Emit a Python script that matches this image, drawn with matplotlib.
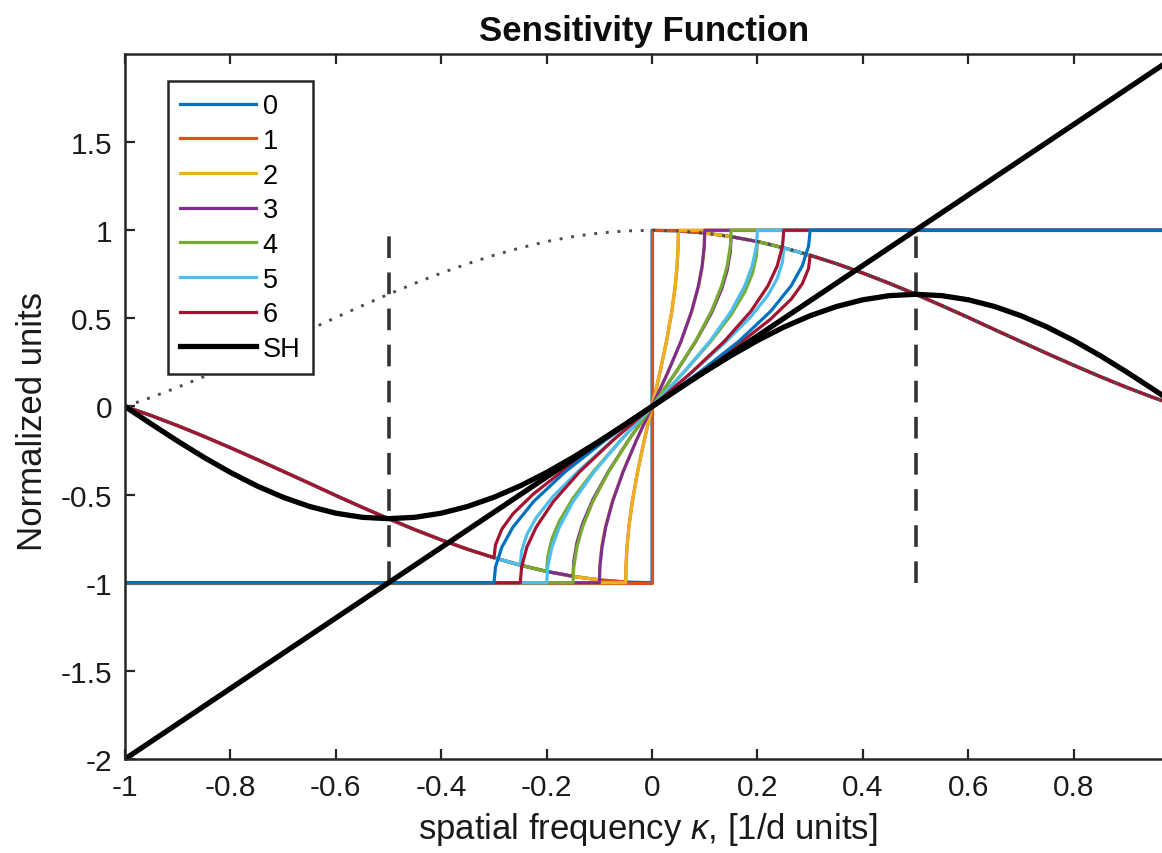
import matplotlib
matplotlib.use("Agg")
import matplotlib.pyplot as plt

plt.rcParams['font.family'] = ['Liberation Sans', 'DejaVu Sans']
plt.rcParams['mathtext.fontset'] = 'custom'
plt.rcParams['mathtext.rm'] = 'Liberation Sans'
plt.rcParams['mathtext.it'] = 'Liberation Sans:italic'

# ---- data ----
x_ticks = [-1, -0.8, -0.6, -0.4, -0.2, 0, 0.2, 0.4, 0.6, 0.8]
x_tick_labels = ['-1', '-0.8', '-0.6', '-0.4', '-0.2', '0', '0.2', '0.4', '0.6', '0.8']
y_ticks = [-2, -1.5, -1, -0.5, 0, 0.5, 1, 1.5]
y_tick_labels = ['-2', '-1.5', '-1', '-0.5', '0', '0.5', '1', '1.5']

labels = ['0', '1', '2', '3', '4', '5', '6', 'SH']
colors = ['#0072BD', '#D95319', '#EDB120', '#7E2F8E', '#77AC30', '#4DBEEE', '#A2142F']

# ramp part of each curve (x positions per ramp width)
ramp_x_00 = [0.0, 0.0]
ramp_x_05 = [-0.05, -0.0495, -0.0475, -0.044, -0.0375, -0.0275, -0.015, 0.0,
             0.015, 0.0275, 0.0375, 0.044, 0.0475, 0.0495, 0.05]
ramp_x_10 = [-0.10, -0.099, -0.095, -0.088, -0.075, -0.055, -0.03, 0.0,
             0.03, 0.055, 0.075, 0.088, 0.095, 0.099, 0.10]
ramp_x_15 = [-0.15, -0.1485, -0.1425, -0.132, -0.1125, -0.0825, -0.045, 0.0,
             0.045, 0.0825, 0.1125, 0.132, 0.1425, 0.1485, 0.15]
ramp_x_20 = [-0.20, -0.198, -0.19, -0.176, -0.15, -0.11, -0.06, 0.0,
             0.06, 0.11, 0.15, 0.176, 0.19, 0.198, 0.20]
ramp_x_25 = [-0.25, -0.2475, -0.2375, -0.22, -0.1875, -0.1375, -0.075, 0.0,
             0.075, 0.1375, 0.1875, 0.22, 0.2375, 0.2475, 0.25]
ramp_x_30 = [-0.30, -0.297, -0.285, -0.264, -0.225, -0.165, -0.09, 0.0,
             0.09, 0.165, 0.225, 0.264, 0.285, 0.297, 0.30]

# hard-clipped ramps (saturate at +-1)
hard_y_00 = [-1.0, 1.0]
hard_y = [-1.0, -0.910, -0.798, -0.685, -0.540, -0.371, -0.194, 0.0,
          0.194, 0.371, 0.540, 0.685, 0.798, 0.910, 1.0]

# sinc-weighted ramps
soft_y_00 = [-1.0, 1.0]
soft_y_05 = [-0.996, -0.906, -0.795, -0.683, -0.539, -0.371, -0.194, 0.0,
             0.194, 0.371, 0.539, 0.683, 0.795, 0.906, 0.996]
soft_y_10 = [-0.984, -0.895, -0.786, -0.676, -0.535, -0.369, -0.194, 0.0,
             0.194, 0.369, 0.535, 0.676, 0.786, 0.895, 0.984]
soft_y_15 = [-0.963, -0.877, -0.771, -0.666, -0.529, -0.367, -0.193, 0.0,
             0.193, 0.367, 0.529, 0.666, 0.771, 0.877, 0.963]
soft_y_20 = [-0.936, -0.852, -0.751, -0.651, -0.520, -0.364, -0.193, 0.0,
             0.193, 0.364, 0.520, 0.651, 0.751, 0.852, 0.936]
soft_y_25 = [-0.900, -0.821, -0.726, -0.632, -0.509, -0.360, -0.192, 0.0,
             0.192, 0.360, 0.509, 0.632, 0.726, 0.821, 0.900]
soft_y_30 = [-0.858, -0.784, -0.696, -0.609, -0.496, -0.355, -0.191, 0.0,
             0.191, 0.355, 0.496, 0.609, 0.696, 0.784, 0.858]

widths = [0.0, 0.05, 0.10, 0.15, 0.20, 0.25, 0.30]
ramp_xs = [ramp_x_00, ramp_x_05, ramp_x_10, ramp_x_15, ramp_x_20, ramp_x_25, ramp_x_30]
soft_ys = [soft_y_00, soft_y_05, soft_y_10, soft_y_15, soft_y_20, soft_y_25, soft_y_30]

grid_x = [-1.0, -0.95, -0.9, -0.85, -0.8, -0.75, -0.7, -0.65, -0.6, -0.55, -0.5,
          -0.45, -0.4, -0.35, -0.3, -0.25, -0.2, -0.15, -0.1, -0.05, 0.0,
          0.05, 0.1, 0.15, 0.2, 0.25, 0.3, 0.35, 0.4, 0.45, 0.5,
          0.55, 0.6, 0.65, 0.7, 0.75, 0.8, 0.85, 0.9, 0.95, 1.0]
# dotted envelope
sinc_y = [0.0, 0.052, 0.109, 0.170, 0.234, 0.300, 0.368, 0.436, 0.505, 0.572, 0.637,
          0.699, 0.757, 0.810, 0.858, 0.900, 0.936, 0.964, 0.984, 0.996, 1.0,
          0.996, 0.984, 0.964, 0.936, 0.900, 0.858, 0.810, 0.757, 0.699, 0.637,
          0.572, 0.505, 0.436, 0.368, 0.300, 0.234, 0.170, 0.109, 0.052, 0.0]
# outer tail shared by the sinc-weighted curves
tail_y = [0.0, -0.052, -0.109, -0.170, -0.234, -0.300, -0.368, -0.436, -0.505, -0.572, -0.637,
          -0.699, -0.757, -0.810, -0.858, -0.900, -0.936, -0.964, -0.984, -0.996, 0.0,
          0.996, 0.984, 0.964, 0.936, 0.900, 0.858, 0.810, 0.757, 0.699, 0.637,
          0.572, 0.505, 0.436, 0.368, 0.300, 0.234, 0.170, 0.109, 0.052, 0.0]
sh_y = [0.0, -0.0996, -0.1967, -0.2890, -0.3742, -0.4502, -0.5150, -0.5672, -0.6055, -0.6288, -0.6366,
        -0.6288, -0.6055, -0.5672, -0.5150, -0.4502, -0.3742, -0.2890, -0.1967, -0.0996, 0.0,
        0.0996, 0.1967, 0.2890, 0.3742, 0.4502, 0.5150, 0.5672, 0.6055, 0.6288, 0.6366,
        0.6288, 0.6055, 0.5672, 0.5150, 0.4502, 0.3742, 0.2890, 0.1967, 0.0996, 0.0]

line_x = [-1.0, 1.0]
line_y = [-2.0, 2.0]
dash_x = [-0.5, 0.5]
dash_lo, dash_hi = -1.0, 1.0

# ---- figure ----
fig = plt.figure(figsize=(11.62, 8.54), dpi=100)
ax = fig.add_axes([0.1076, 0.1101, 0.9071, 0.8255])

handles = []
# sinc-weighted curves, colour n for width n
for n, w in enumerate(widths):
    xs = [x for x in grid_x if x < -w - 1e-9] + ramp_xs[n] + [x for x in grid_x if x > w + 1e-9]
    ys = ([t for x, t in zip(grid_x, tail_y) if x < -w - 1e-9] + soft_ys[n]
          + [t for x, t in zip(grid_x, tail_y) if x > w + 1e-9])
    h, = ax.plot(xs, ys, color=colors[n], lw=2.3)
    handles.append(h)

# hard-clipped curves
for n, w in enumerate(widths):
    if n == 0:
        xs = [-1.0] + ramp_x_00 + [1.0]
        ys = [-1.0] + hard_y_00 + [1.0]
    else:
        xs = [-1.0] + ramp_xs[n] + [1.0]
        ys = [-1.0] + hard_y + [1.0]
    ax.plot(xs, ys, color=colors[(n + 1) % 7], lw=2.3)

ax.plot(grid_x, sinc_y, color='0.3', lw=2.1, linestyle=(0, (1, 3)))
ax.vlines(dash_x, dash_lo, dash_hi, colors='0.2', lw=2.6, linestyles=[(0, (6, 4))])
ax.plot(line_x, line_y, color='black', lw=3.8)
h_sh, = ax.plot(grid_x, sh_y, color='black', lw=3.8)
handles.append(h_sh)

ax.set_xlim(-1, 1)
ax.set_ylim(-2, 2)
ax.set_xticks(x_ticks)
ax.set_xticklabels(x_tick_labels)
ax.set_yticks(y_ticks)
ax.set_yticklabels(y_tick_labels)
ax.tick_params(direction='in', top=True, right=True, length=7, width=1.6,
               labelsize=21.5, color='0.15', labelcolor='0.1')
ax.tick_params(axis='x', pad=10)
ax.tick_params(axis='y', pad=9)
for s in ax.spines.values():
    s.set_linewidth(1.8)
    s.set_color('0.15')

ax.set_title('Sensitivity Function', fontsize=25, fontweight='bold', pad=10,
             color='0.05', x=0.492)
ax.set_xlabel(r'spatial frequency $\kappa$, [1/d units]', fontsize=25, color='0.1')
ax.set_ylabel('Normalized units', fontsize=25, color='0.1')
ax.xaxis.set_label_coords(0.496, -0.072)
ax.yaxis.set_label_coords(-0.072, 0.48)

leg = ax.legend(handles, labels, loc='upper left', bbox_to_anchor=(0.0408, 0.9617),
                borderaxespad=0, fontsize=19.5, handlelength=2.8, handletextpad=0.25,
                labelspacing=0.32, borderpad=0.45, fancybox=False, framealpha=1)
leg.get_frame().set_edgecolor('0.15')
leg.get_frame().set_linewidth(1.8)

fig.savefig('out.png', dpi=100)
